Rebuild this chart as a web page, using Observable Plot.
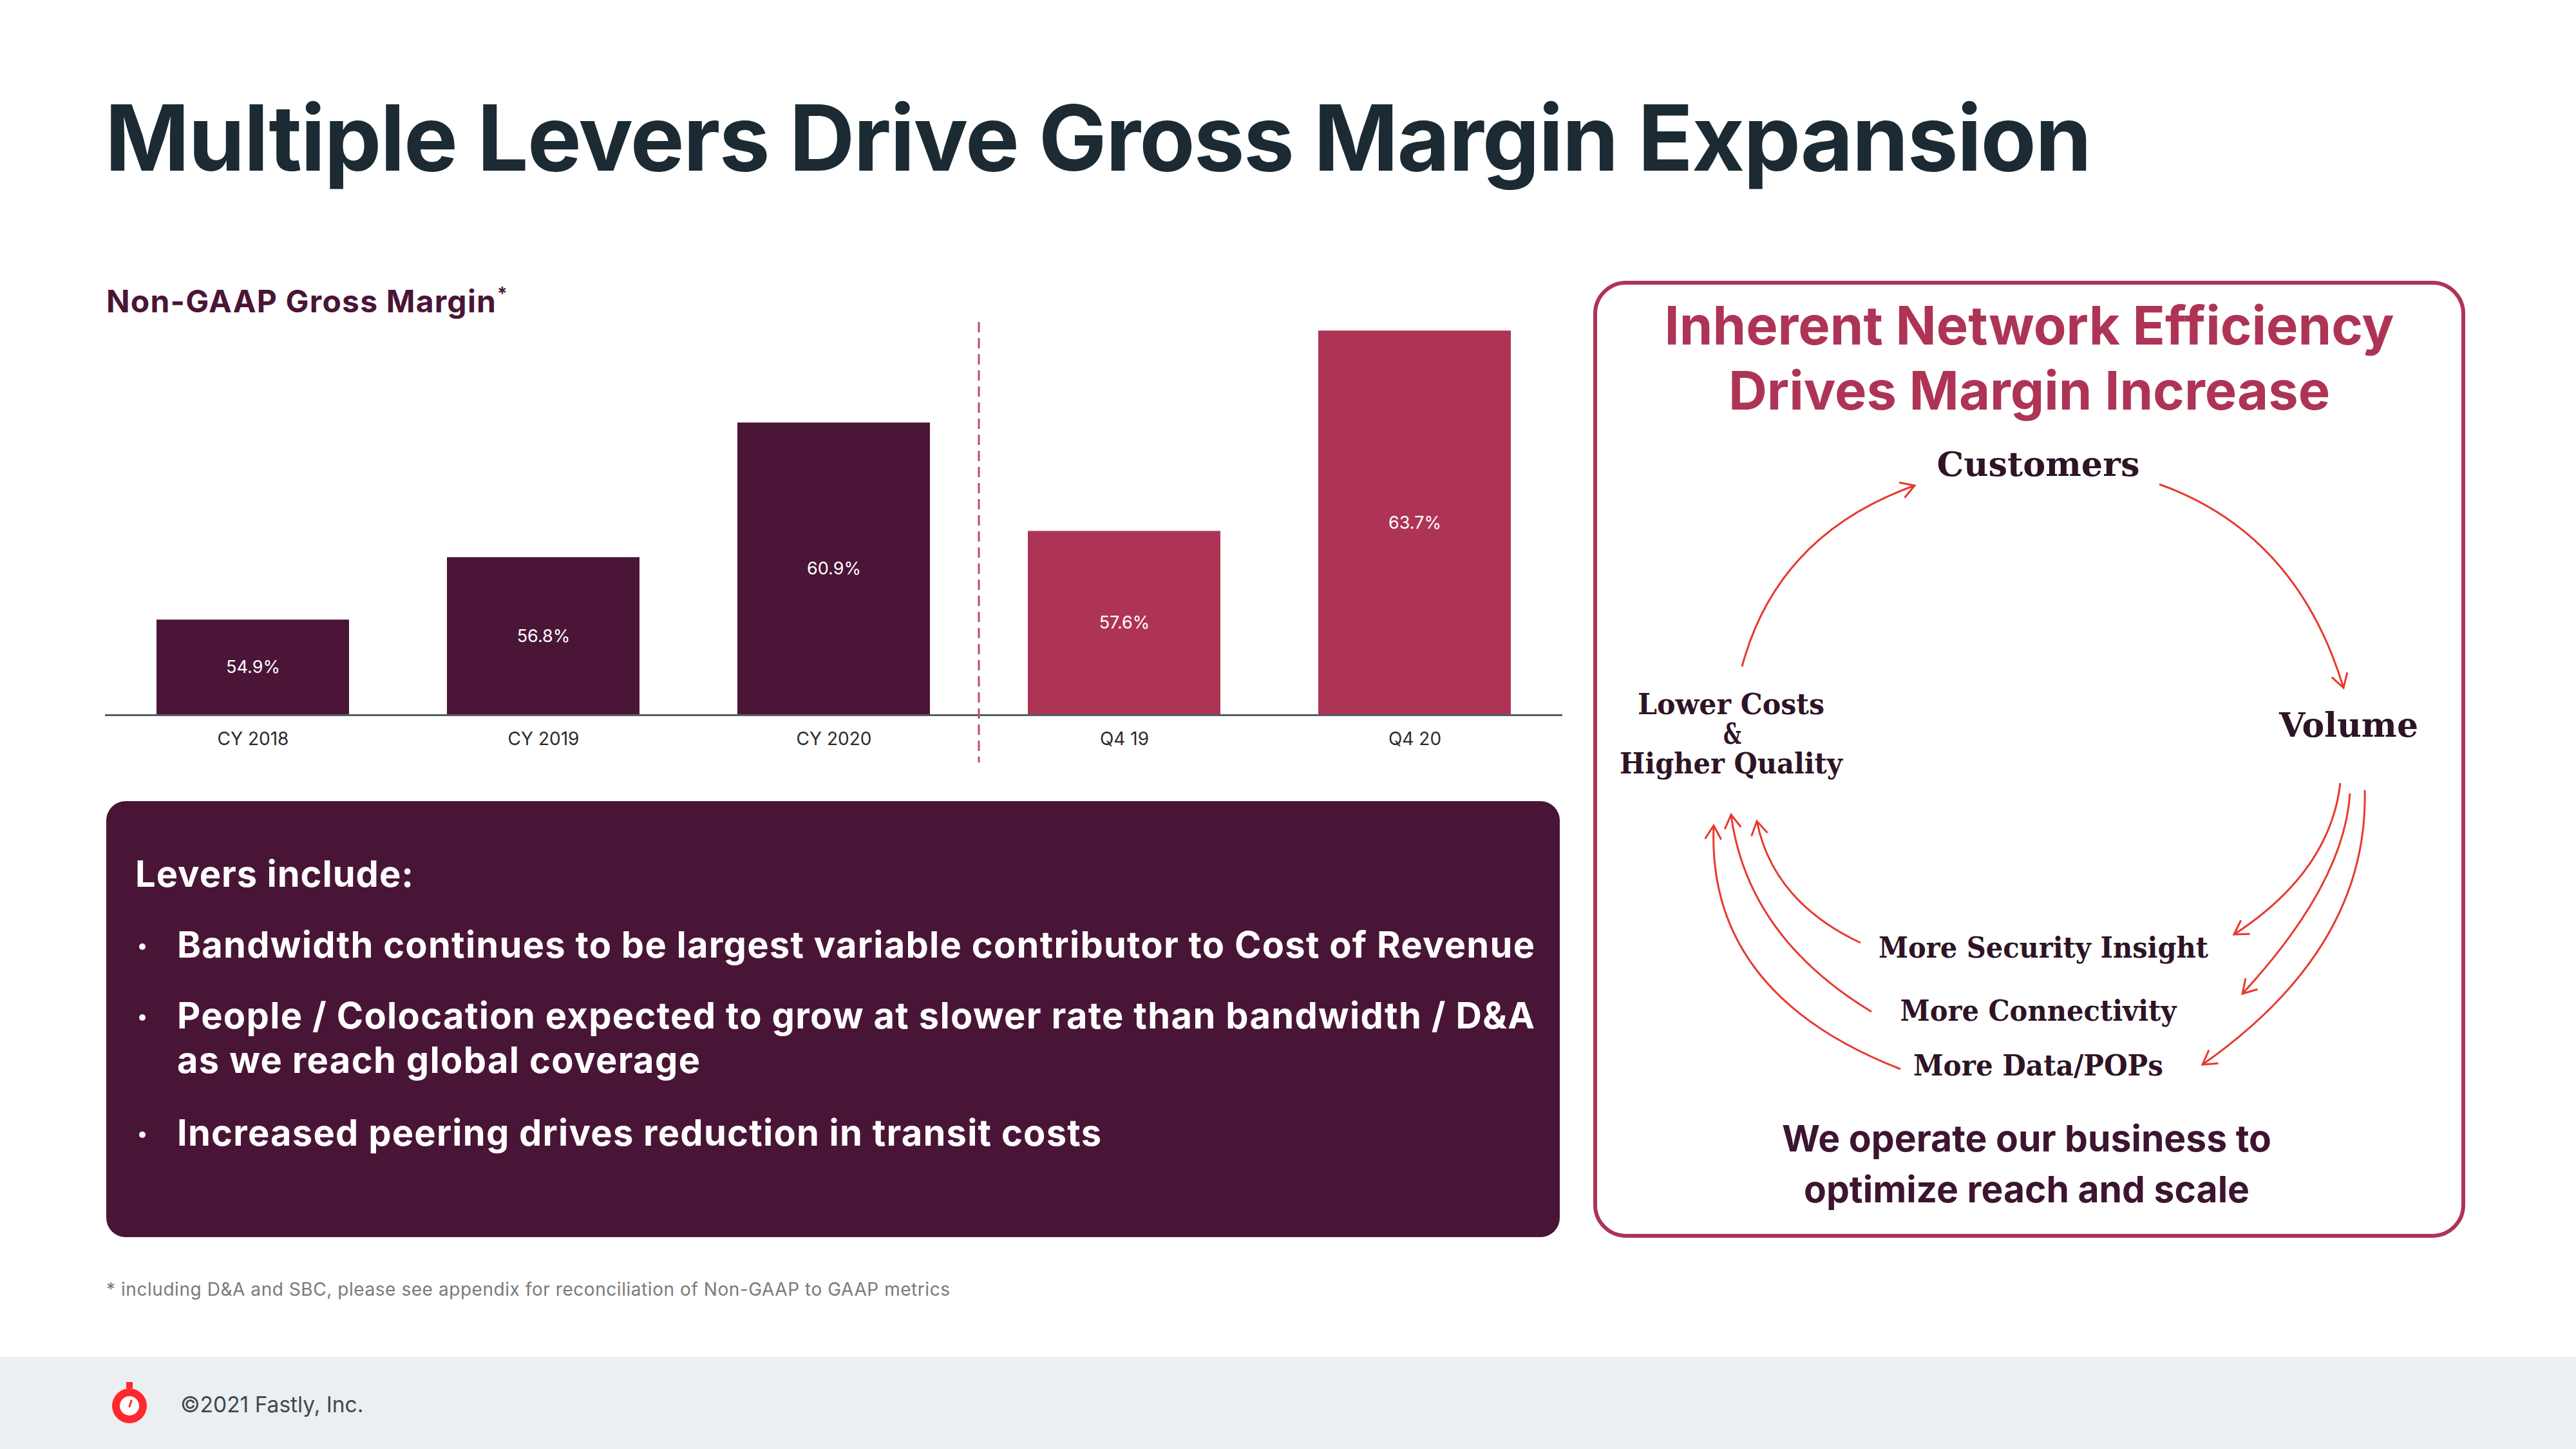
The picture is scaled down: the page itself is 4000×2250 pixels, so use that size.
<!DOCTYPE html>
<html>
<head>
<meta charset="utf-8">
<script src="https://cdn.jsdelivr.net/npm/d3@7"></script>
<script src="https://cdn.jsdelivr.net/npm/@observablehq/plot@0.6"></script>
<style>
  html, body { margin: 0; padding: 0; background: #ffffff; overflow: hidden; }
  #page { position: relative; width: 4000px; height: 2250px; overflow: hidden; background: #ffffff; font-family: Inter, "Noto Sans", sans-serif; }
  #page > svg { position: absolute; left: 0; top: 0; }
  #chart { position: absolute; left: 163px; top: 480px; }
</style>
</head>
<body>
<div id="page"><div id="chart"></div></div>
<script>
// ---------- data ----------
const categories = ["CY 2018", "CY 2019", "CY 2020", "Q4 19", "Q4 20"];
const grossMargin = [54.9, 56.8, 60.9, 57.6, 63.7];
const periodType = ["Annual", "Annual", "Annual", "Quarter", "Quarter"];
const yDomain = [52, 64];
const dividerBefore = "Q4 19";

// ---------- texts ----------
const titleText = "Multiple Levers Drive Gross Margin Expansion";
const chartTitle = "Non-GAAP Gross Margin";
const leversHeading = "Levers include:";
const leverBullets = [
  ["Bandwidth continues to be largest variable contributor to Cost of Revenue"],
  ["People / Colocation expected to grow at slower rate than bandwidth / D&A", "as we reach global coverage"],
  ["Increased peering drives reduction in transit costs"]
];
const footnoteText = "* including D&A and SBC, please see appendix for reconciliation of Non-GAAP to GAAP metrics";
const copyrightText = "©2021 Fastly, Inc.";
const panelTitle = ["Inherent Network Efficiency", "Drives Margin Increase"];
const cycleTop = "Customers";
const cycleRight = "Volume";
const cycleLeft = ["Lower Costs", "&", "Higher Quality"];
const drivers = ["More Security Insight", "More Connectivity", "More Data/POPs"];
const panelFooter = ["We operate our business to", "optimize reach and scale"];

// ---------- colours ----------
const PLUM = "#4a1536", CRIMSON = "#ae3455", RED = "#e8392e", INK = "#1b2a33";

// ---------- page svg ----------
const svg = d3.select("#page").insert("svg", "#chart")
  .attr("width", 4000).attr("height", 2250)
  .attr("font-family", "Inter, 'Noto Sans', sans-serif");

const defs = svg.append("defs");
defs.append("marker").attr("id", "chev")
  .attr("viewBox", "-24 -16 28 32").attr("refX", 0).attr("refY", 0)
  .attr("markerWidth", 28).attr("markerHeight", 32)
  .attr("markerUnits", "userSpaceOnUse").attr("orient", "auto")
  .style("overflow", "visible")
  .append("path").attr("d", "M-20,-12 L0,0 L-20,12")
  .attr("fill", "none").attr("stroke", RED).attr("stroke-width", 3).attr("stroke-linecap", "round");

function fitText(sel, len) {
  return sel.attr("textLength", len).attr("lengthAdjust", "spacing");
}

// title
fitText(svg.append("text").attr("x", 163).attr("y", 265)
  .attr("font-size", 141).attr("font-weight", 700).attr("fill", INK)
  .text(titleText), 3085);

// chart subtitle
fitText(svg.append("text").attr("x", 165).attr("y", 485)
  .attr("font-size", 48).attr("font-weight", 700).attr("fill", PLUM)
  .text(chartTitle), 605);
svg.append("text").attr("x", 772).attr("y", 466)
  .attr("font-size", 28).attr("font-weight", 700).attr("fill", PLUM).text("*");

// levers box
svg.append("rect").attr("x", 165).attr("y", 1244).attr("width", 2257).attr("height", 677)
  .attr("rx", 30).attr("fill", "#491536");
fitText(svg.append("text").attr("x", 210).attr("y", 1377)
  .attr("font-size", 56).attr("font-weight", 700).attr("fill", "#ffffff")
  .text(leversHeading), 432);
const bulletBaselines = [1487, 1597, 1779];
const bulletWidths = [[2108], [2108, 812], [1435]];
leverBullets.forEach((lines, i) => {
  svg.append("circle").attr("cx", 221).attr("cy", bulletBaselines[i] - 17).attr("r", 5).attr("fill", "#ffffff");
  lines.forEach((ln, j) => {
    fitText(svg.append("text").attr("x", 275).attr("y", bulletBaselines[i] + j * 69)
      .attr("font-size", 56).attr("font-weight", 700).attr("fill", "#ffffff")
      .text(ln), bulletWidths[i][j]);
  });
});

// footnote
fitText(svg.append("text").attr("x", 165).attr("y", 2012)
  .attr("font-size", 28).attr("fill", "#7a7a7a").text(footnoteText), 1310);

// footer
svg.append("rect").attr("x", 0).attr("y", 2107).attr("width", 4000).attr("height", 143).attr("fill", "#ebeff2");
const logo = svg.append("g");
logo.append("rect").attr("x", 196).attr("y", 2146).attr("width", 10).attr("height", 10).attr("fill", "#ff282d");
logo.append("circle").attr("cx", 201).attr("cy", 2183).attr("r", 27).attr("fill", "#ff282d");
logo.append("circle").attr("cx", 201).attr("cy", 2183).attr("r", 15).attr("fill", "#ffffff");
logo.append("line").attr("x1", 201).attr("y1", 2184).attr("x2", 204).attr("y2", 2175)
  .attr("stroke", "#ff282d").attr("stroke-width", 3).attr("stroke-linecap", "round");
svg.append("text").attr("x", 280).attr("y", 2193)
  .attr("font-size", 33.5).attr("fill", "#3e4850").text(copyrightText);

// right panel
svg.append("rect").attr("x", 2477).attr("y", 439).attr("width", 1348).attr("height", 1480)
  .attr("rx", 48).attr("fill", "#ffffff").attr("stroke", CRIMSON).attr("stroke-width", 6);
panelTitle.forEach((t, i) => {
  svg.append("text").attr("x", 3151).attr("y", 535 + i * 101).attr("text-anchor", "middle")
    .attr("font-size", 83).attr("font-weight", 700).attr("fill", CRIMSON).text(t);
});

const SERIF = "'DejaVu Serif', 'Liberation Serif', serif";
function slab(t, cx, y, size, len) {
  return svg.append("text").attr("x", cx - len / 2).attr("y", y)
    .attr("font-family", SERIF).attr("font-weight", 700).attr("font-size", size)
    .attr("fill", "#2e1426")
    .attr("textLength", len).attr("lengthAdjust", "spacingAndGlyphs")
    .text(t);
}
slab(cycleTop, 3165, 739, 52, 315);
slab(cycleRight, 3647, 1144, 52, 216);
slab(cycleLeft[0], 2688, 1109, 44, 290);
slab(cycleLeft[1], 2690, 1155, 44, 28);
slab(cycleLeft[2], 2688, 1201, 44, 346);
const driverPos = [[3173, 1487, 512], [3165, 1585, 429], [3165, 1670, 388]];
drivers.forEach((t, i) => slab(t, driverPos[i][0], driverPos[i][1], 44, driverPos[i][2]));

panelFooter.forEach((t, i) => {
  svg.append("text").attr("x", 3147).attr("y", 1788 + i * 79).attr("text-anchor", "middle")
    .attr("font-size", 57).attr("font-weight", 700).attr("fill", "#3d1530").text(t);
});

// cycle arrows
const arrows = [
  "M2705,1035 Q2760,830 2973,754",
  "M3353,752 Q3566,828 3639,1068",
  "M3634,1216 Q3618,1354 3469,1451",
  "M3649,1232 Q3640,1372 3482,1543",
  "M3672,1227 Q3678,1472 3420,1653",
  "M2889,1464 Q2753,1400 2728,1275",
  "M2906,1571 Q2713,1454 2688,1265",
  "M2951,1660 Q2650,1543 2661,1282"
];
svg.append("g").selectAll("path").data(arrows).join("path")
  .attr("d", d => d).attr("fill", "none").attr("stroke", RED).attr("stroke-width", 3)
  .attr("marker-end", "url(#chev)");

// ---------- bar chart (Observable Plot) ----------
const data = categories.map((c, i) => ({ category: c, value: grossMargin[i], type: periodType[i] }));
const chart = Plot.plot({
  width: 2263,
  height: 720,
  marginTop: 18,
  marginBottom: 90,
  marginLeft: 0,
  marginRight: 0,
  style: { fontFamily: "Inter, 'Noto Sans', sans-serif", background: "transparent", overflow: "visible" },
  x: { domain: categories, paddingInner: 0.336, paddingOuter: 0.173, label: null },
  y: { domain: yDomain, axis: null },
  color: { domain: ["Annual", "Quarter"], range: [PLUM, CRIMSON] },
  marks: [
    Plot.barY(data, { x: "category", y1: yDomain[0], y2: "value", fill: "type" }),
    Plot.ruleY([yDomain[0]], { stroke: "#555e63", strokeWidth: 3 }),
    Plot.text(data, { x: "category", y: d => (yDomain[0] + d.value) / 2, text: d => d.value.toFixed(1) + "%", fill: "#ffffff", fontSize: 27 }),
    Plot.axisX({ tickSize: 0, tickPadding: 27, fontSize: 28, fill: "#2b2b2b", label: null })
  ]
});
// dashed divider between annual and quarterly bars, placed with the x / y scales
const xs = chart.scale("x"), ys = chart.scale("y");
const xDiv = xs.apply(dividerBefore) - (xs.step - xs.bandwidth) / 2;
d3.select(chart).append("line")
  .attr("x1", xDiv).attr("x2", xDiv)
  .attr("y1", ys.apply(yDomain[1]) + 2).attr("y2", 704)
  .attr("stroke", "#b5506c").attr("stroke-width", 3).attr("stroke-dasharray", "16,9");
document.getElementById("chart").appendChild(chart);
</script>
</body>
</html>
